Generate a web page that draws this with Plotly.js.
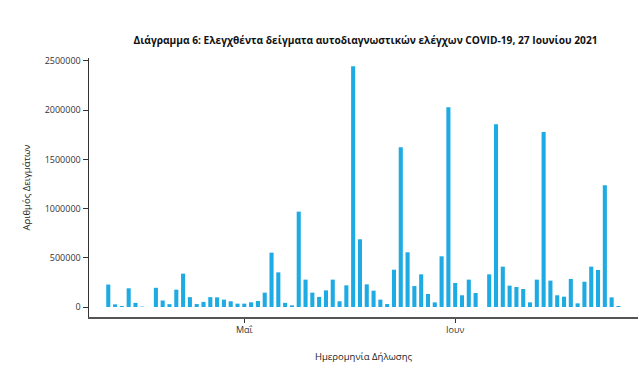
<!DOCTYPE html>
<html>
<head>
<meta charset="utf-8">
<script src="https://cdn.plot.ly/plotly-3.0.1.min.js"></script>
<style>html,body{margin:0;padding:0;background:#fff;}#chart{width:639px;height:389px;}</style>
</head>
<body>
<div id="chart"></div>
<script>
const dates = [
  "2021-04-11","2021-04-12","2021-04-13","2021-04-14","2021-04-15","2021-04-16",
  "2021-04-18","2021-04-19","2021-04-20","2021-04-21","2021-04-22","2021-04-23","2021-04-24",
  "2021-04-25","2021-04-26","2021-04-27","2021-04-28","2021-04-29","2021-04-30",
  "2021-05-01","2021-05-02","2021-05-03","2021-05-04","2021-05-05","2021-05-06","2021-05-07",
  "2021-05-08","2021-05-09","2021-05-10","2021-05-11","2021-05-12","2021-05-13","2021-05-14",
  "2021-05-15","2021-05-16","2021-05-17","2021-05-18","2021-05-19","2021-05-20","2021-05-21",
  "2021-05-22","2021-05-23","2021-05-24","2021-05-25","2021-05-26","2021-05-27","2021-05-28",
  "2021-05-29","2021-05-30","2021-05-31","2021-06-01","2021-06-02","2021-06-03","2021-06-04",
  "2021-06-06","2021-06-07","2021-06-08","2021-06-09","2021-06-10","2021-06-11",
  "2021-06-12","2021-06-13","2021-06-14","2021-06-15","2021-06-16","2021-06-17","2021-06-18",
  "2021-06-19","2021-06-20","2021-06-21","2021-06-22","2021-06-23","2021-06-24","2021-06-25"
];
const samples = [
  228000, 27000, 10000, 190000, 42000, 4000,
  195000, 66000, 29000, 176000, 339000, 100000, 30000,
  52000, 100000, 98000, 75000, 58000, 34000,
  34000, 48000, 61000, 146000, 552000, 352000, 42000,
  17000, 969000, 278000, 146000, 102000, 169000, 278000,
  58000, 220000, 2446000, 688000, 230000, 166000, 75000,
  30000, 379000, 1623000, 556000, 213000, 332000, 132000,
  47000, 515000, 2029000, 244000, 119000, 278000, 142000,
  332000, 1856000, 410000, 217000, 203000, 183000,
  47000, 278000, 1778000, 268000, 119000, 105000, 285000,
  37000, 257000, 410000, 376000, 1237000, 98000, 10000
];
const xTickVals = ["2021-05-01", "2021-06-01"];
const xTickText = ["Μαΐ", "Ιουν"];
const yTickVals = [0, 500000, 1000000, 1500000, 2000000, 2500000];
const yTickText = ["0", "500000", "1000000", "1500000", "2000000", "2500000"];

const trace = {
  type: "bar",
  x: dates,
  y: samples,
  width: 0.6 * 86400000,
  marker: {color: "#1eaae2"},
  hoverinfo: "x+y"
};

const layout = {
  width: 639, height: 389,
  margin: {l: 89, r: 1, t: 58, b: 72},
  paper_bgcolor: "#ffffff",
  plot_bgcolor: "#ffffff",
  font: {family: "Open Sans, sans-serif", color: "#222", size: 9},
  showlegend: false,
  title: {
    text: "<b>Διάγραμμα 6: Ελεγχθέντα δείγματα αυτοδιαγνωστικών ελέγχων COVID-19, 27 Ιουνίου 2021</b>",
    font: {size: 10.2, color: "#111"},
    x: 0.572, xanchor: "center", y: 0.895, yanchor: "middle"
  },
  xaxis: {
    type: "date",
    range: ["2021-04-08 04:00", "2021-06-27 21:00"],
    tickvals: xTickVals, ticktext: xTickText,
    ticks: "outside", ticklen: 4, tickcolor: "#333", tickwidth: 1,
    showline: true, linecolor: "#555", linewidth: 1.5,
    showgrid: false, zeroline: false,
    tickfont: {size: 9, color: "#333"},
    title: {text: "Ημερομηνία Δήλωσης", font: {size: 9.5, color: "#222"}, standoff: 18}
  },
  yaxis: {
    range: [-101600, 2530000],
    tickvals: yTickVals, ticktext: yTickText,
    ticks: "outside", ticklen: 5, tickcolor: "#333", tickwidth: 1,
    showline: true, linecolor: "#333", linewidth: 1.5,
    showgrid: false, zeroline: false,
    tickfont: {size: 9, color: "#333"},
    title: {text: "Αριθμός Δειγμάτων", font: {size: 9.5, color: "#222"}, standoff: 12}
  },
  bargap: 0.4
};

Plotly.newPlot("chart", [trace], layout, {displayModeBar: false, staticPlot: true});
</script>
</body>
</html>
